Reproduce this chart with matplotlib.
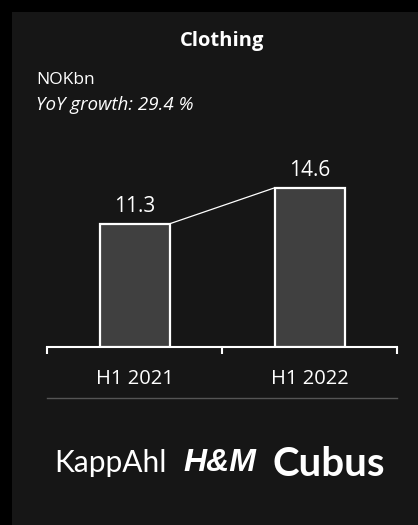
import matplotlib
matplotlib.use("Agg")
import matplotlib.pyplot as plt
from matplotlib.patches import Rectangle
from matplotlib.lines import Line2D

# Data
periods = ["H1 2021", "H1 2022"]
revenue_nokbn = [11.3, 14.6]
yoy_growth = 29.4
title = "Clothing"
unit = "NOKbn"
brands = ["KappAhl", "H&M", "Cubus"]

W, H = 418, 525
DPI = 100
fig = plt.figure(figsize=(W / DPI, H / DPI), dpi=DPI, facecolor="#000000")

FONT = ["Open Sans", "DejaVu Sans"]
WHITE = "#ffffff"
PANEL = "#161616"
BAR = "#404040"


def fx(px):
    return px / W


def fy(py):
    return 1 - py / H


# Panel background
fig.patches.append(Rectangle((fx(12), 0), 1 - fx(12), fy(12), transform=fig.transFigure,
                             facecolor=PANEL, edgecolor="none", zorder=-10))

# Header texts
fig.text(fx(222), fy(41), title, ha="center", va="center", color=WHITE,
         fontsize=14.5, fontweight="bold", family=FONT)
fig.text(fx(36), fy(80), unit, ha="left", va="center", color=WHITE,
         fontsize=12.5, family=FONT)
fig.text(fx(36), fy(105), f"YoY growth: {yoy_growth} %", ha="left", va="center",
         color=WHITE, fontsize=13.5, style="italic", family=FONT)

# Bar chart axes
ax_left, ax_right = 47, 397
baseline, ax_top = 347, 147
ax = fig.add_axes([fx(ax_left), fy(baseline), fx(ax_right - ax_left), (baseline - ax_top) / H])
ax.set_facecolor("none")
ax.set_zorder(5)
px_per_unit = 10.9
ax.set_ylim(0, (baseline - ax_top) / px_per_unit)
ax.set_xlim(-0.5, len(periods) - 0.5)

x = list(range(len(periods)))
bar_w = 0.4
ax.bar(x, revenue_nokbn, width=bar_w, color=BAR, edgecolor=WHITE, linewidth=1.6, zorder=3)

# Connector between bar tops
ax.plot([x[0] + bar_w / 2, x[1] - bar_w / 2], [revenue_nokbn[0], revenue_nokbn[1]],
        color=WHITE, linewidth=0.9, zorder=2)

for xi, v in zip(x, revenue_nokbn):
    ax.annotate(f"{v:.1f}", (xi, v), xytext=(0, 5), textcoords="offset points",
                ha="center", va="bottom", color=WHITE, fontsize=15, family=FONT)

for s in ["top", "right", "left"]:
    ax.spines[s].set_visible(False)
ax.spines["bottom"].set_color(WHITE)
ax.spines["bottom"].set_linewidth(1.5)
ax.set_yticks([])
ax.set_xticks(x)
ax.set_xticklabels(periods, color=WHITE, fontsize=14.5, family=FONT)
ax.tick_params(axis="x", which="major", length=0, pad=16)
ax.set_xticks([-0.5, 0.5, 1.5], minor=True)
ax.tick_params(axis="x", which="minor", length=5, width=1.5, color=WHITE, direction="out")

# Separator line
fig.add_artist(Line2D([fx(47), fx(397)], [fy(398), fy(398)], transform=fig.transFigure,
                      color="#555555", linewidth=1.0))

# Brand names
fig.text(fx(110), fy(463), brands[0], ha="center", va="center", color=WHITE,
         fontsize=21.5, family=["Lato", "DejaVu Sans"])
fig.text(fx(220), fy(463), brands[1], ha="center", va="center", color=WHITE,
         fontsize=23, family=["Liberation Sans", "DejaVu Sans"],
         fontweight="bold", style="italic")
fig.text(fx(329), fy(464), brands[2], ha="center", va="center", color=WHITE,
         fontsize=29, family=["Lato", "DejaVu Sans"], fontweight="bold")

fig.savefig("out.png", dpi=DPI, facecolor=fig.get_facecolor())
